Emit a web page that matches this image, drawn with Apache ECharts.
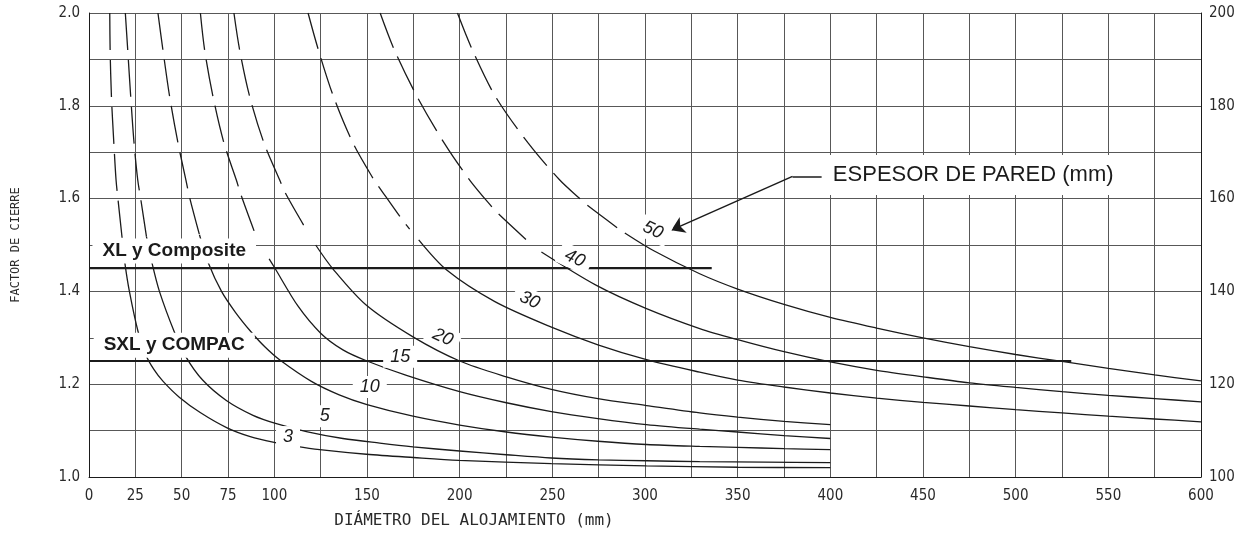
<!DOCTYPE html>
<html>
<head>
<meta charset="utf-8">
<script src="https://cdn.jsdelivr.net/npm/echarts@6/dist/echarts.min.js"></script>
<style>
  html, body { margin: 0; padding: 0; background: #ffffff; }
  #chart { width: 1243px; height: 541px; }
</style>
</head>
<body>
<div id="chart"></div>
<script>
// Closure factor vs. housing diameter (mm), one curve per wall thickness.
// Points are [diameter, factor].
const wallThickness = [3, 5, 10, 15, 20, 30, 40, 50];

const wall3 = [[11.2, 2.0], [11.4, 1.92], [12.1, 1.82], [13.4, 1.72], [14.6, 1.64], [15.6, 1.60], [18.0, 1.51], [19.4, 1.46], [21.8, 1.40], [26.5, 1.313], [30.8, 1.262], [35.0, 1.232], [40.0, 1.206], [48.7, 1.172], [60.0, 1.139], [74.5, 1.106], [87.0, 1.087], [99.3, 1.075], [112.0, 1.066], [124.5, 1.059], [149.7, 1.049], [175.0, 1.042], [199.6, 1.036], [249.5, 1.029], [300.8, 1.024], [350.0, 1.021], [400.0, 1.020]];
const wall5 = [[19.6, 2.0], [20.9, 1.92], [22.5, 1.82], [24.3, 1.72], [26.3, 1.64], [28.0, 1.597], [31.0, 1.518], [34.0, 1.461], [38.0, 1.40], [46.0, 1.313], [52.3, 1.259], [61.3, 1.209], [74.1, 1.165], [88.5, 1.133], [101.1, 1.115], [117.3, 1.098], [137.0, 1.083], [156.9, 1.073], [174.8, 1.065], [200.0, 1.056], [225.2, 1.048], [249.5, 1.041], [275.0, 1.037], [300.8, 1.035], [329.5, 1.033], [365.0, 1.032], [400.0, 1.031]];
const wall10 = [[37.2, 2.0], [39.9, 1.92], [43.5, 1.82], [48.0, 1.72], [52.3, 1.64], [54.2, 1.604], [59.6, 1.522], [64.5, 1.46], [71.5, 1.40], [79.0, 1.355], [87.4, 1.313], [95.0, 1.280], [103.0, 1.252], [120.0, 1.206], [135.0, 1.177], [150.0, 1.156], [174.8, 1.131], [200.0, 1.112], [225.2, 1.097], [249.5, 1.086], [274.6, 1.077], [300.8, 1.070], [329.5, 1.066], [350.0, 1.064], [375.0, 1.061], [400.0, 1.059]];
const wall15 = [[60.1, 2.0], [62.4, 1.92], [66.9, 1.82], [72.8, 1.72], [79.5, 1.64], [82.0, 1.608], [89.2, 1.529], [97.2, 1.47], [100.0, 1.452], [112.8, 1.368], [125.0, 1.310], [137.0, 1.274], [150.0, 1.250], [171.3, 1.219], [200.0, 1.184], [225.2, 1.160], [249.5, 1.141], [274.6, 1.126], [300.8, 1.113], [329.5, 1.103], [350.0, 1.097], [375.0, 1.089], [400.0, 1.083]];
const wall20 = [[78.2, 2.0], [81.3, 1.92], [86.7, 1.82], [94.4, 1.72], [102.9, 1.64], [106.1, 1.611], [115.8, 1.543], [122.3, 1.50], [131.7, 1.448], [149.7, 1.370], [174.8, 1.302], [200.0, 1.250], [225.2, 1.216], [249.5, 1.189], [274.6, 1.169], [300.8, 1.154], [329.5, 1.138], [350.0, 1.129], [375.0, 1.120], [400.0, 1.113]];
const wall30 = [[118.2, 2.0], [123.8, 1.92], [131.9, 1.82], [142.4, 1.72], [153.8, 1.64], [156.3, 1.626], [167.8, 1.561], [173.0, 1.534], [177.9, 1.511], [193.0, 1.446], [219.0, 1.378], [249.5, 1.323], [274.6, 1.285], [300.8, 1.253], [329.5, 1.226], [350.0, 1.209], [375.0, 1.194], [400.0, 1.181], [425.0, 1.170], [450.0, 1.161], [475.0, 1.153], [500.0, 1.145], [525.0, 1.138], [550.0, 1.131], [575.0, 1.125], [600.0, 1.119]];
const wall40 = [[157.1, 2.0], [164.8, 1.92], [177.0, 1.82], [191.6, 1.72], [205.4, 1.64], [217.4, 1.582], [220.7, 1.568], [236.0, 1.511], [244.1, 1.485], [273.8, 1.413], [300.8, 1.363], [329.5, 1.320], [350.0, 1.296], [375.0, 1.270], [400.0, 1.248], [425.0, 1.230], [450.0, 1.216], [475.0, 1.203], [500.0, 1.193], [525.0, 1.184], [550.0, 1.176], [575.0, 1.169], [600.0, 1.162]];
const wall50 = [[198.8, 2.0], [206.9, 1.92], [219.3, 1.82], [236.9, 1.72], [254.0, 1.64], [264.8, 1.600], [268.4, 1.587], [285.4, 1.536], [289.1, 1.526], [305.0, 1.487], [329.5, 1.438], [350.0, 1.405], [375.0, 1.372], [400.0, 1.344], [425.0, 1.321], [450.0, 1.300], [475.0, 1.281], [500.0, 1.264], [525.0, 1.249], [550.0, 1.234], [575.0, 1.220], [600.0, 1.207]];

// Above these factors a curve is drawn dashed; below the second value it is solid.
const dashedDownTo = [1.51, 1.518, 1.522, 1.529, 1.543, 1.534, 1.511, 1.536];
const solidFrom = [1.51, 1.518, 1.522, 1.47, 1.50, 1.511, 1.485, 1.526];

// Product limits
const xlLimit = [[0, 1.45], [336, 1.45]];
const sxlLimit = [[0, 1.25], [530, 1.25]];

// Tick labels
const diameterLabels = [0, 25, 50, 75, 100, 150, 200, 250, 300, 350, 400, 450, 500, 550, 600];
const factorLabels = [1.0, 1.2, 1.4, 1.6, 1.8, 2.0];
const percentLabels = [100, 120, 140, 160, 180, 200];

const curves = [wall3, wall5, wall10, wall15, wall20, wall30, wall40, wall50];

const INK = '#1b1b1b';
const GRID = '#585858';
const NARROW = '"Liberation Sans Narrow", "Arial Narrow", "DejaVu Sans Condensed", sans-serif';
const SANS = '"Liberation Sans", Arial, Helvetica, sans-serif';
const MONO = '"DejaVu Sans Mono", "Liberation Mono", monospace';

// Where each thickness tag sits, and its tilt
const tagLayout = {
  3: { at: [107.4, 1.086], rotate: 0 },
  5: { at: [127.2, 1.131], rotate: 0 },
  10: { at: [151.5, 1.194], rotate: 0 },
  15: { at: [167.9, 1.259], rotate: 0 },
  20: { at: [190.9, 1.301], rotate: -25 },
  30: { at: [237.8, 1.381], rotate: -25 },
  40: { at: [262.1, 1.471], rotate: -25 },
  50: { at: [304.3, 1.532], rotate: -25 }
};

const series = [];
curves.forEach((pts, i) => {
  const common = {
    type: 'line',
    showSymbol: false,
    symbol: 'none',
    smooth: 0.3,
    silent: true,
    z: 2,
    color: INK
  };
  series.push(Object.assign({}, common, {
    name: wallThickness[i] + ' mm (dashed)',
    data: pts.filter(p => p[1] >= dashedDownTo[i]),
    lineStyle: { color: INK, width: 1.3, type: [37, 10] }
  }));
  series.push(Object.assign({}, common, {
    name: wallThickness[i] + ' mm',
    data: pts.filter(p => p[1] <= solidFrom[i]),
    lineStyle: { color: INK, width: 1.3, type: 'solid' }
  }));
});

const tagData = wallThickness.map(t => ({
  name: String(t),
  coord: tagLayout[t].at,
  label: { rotate: tagLayout[t].rotate }
}));

const boxLabel = {
  show: true,
  position: 'inside',
  formatter: '{b}',
  backgroundColor: '#ffffff',
  color: INK
};

series.push({
  type: 'line',
  name: 'XL y Composite',
  data: xlLimit,
  showSymbol: false,
  symbol: 'none',
  silent: true,
  z: 3,
  lineStyle: { color: INK, width: 2.2 },
  markPoint: {
    z: 10,
    symbol: 'rect',
    symbolSize: 1,
    silent: true,
    itemStyle: { color: 'rgba(0,0,0,0)' },
    label: Object.assign({}, boxLabel, {
      fontFamily: SANS, fontStyle: 'italic', fontSize: 18, padding: [2, 7]
    }),
    data: tagData.concat([
      {
        name: 'XL y Composite', coord: [46.0, 1.487],
        label: { fontStyle: 'normal', fontWeight: 'bold', fontSize: 19, padding: [3, 10] }
      },
      {
        name: 'SXL y COMPAC', coord: [46.0, 1.284],
        label: { fontStyle: 'normal', fontWeight: 'bold', fontSize: 19, padding: [3, 10] }
      },
      {
        name: 'ESPESOR DE PARED (mm)', coord: [477.1, 1.651],
        label: { fontStyle: 'normal', fontWeight: 'normal', fontSize: 22, padding: [9, 10] }
      }
    ])
  },
  markLine: {
    z: 6,
    silent: true,
    symbol: ['none', 'none'],
    label: { show: false },
    lineStyle: { color: INK, width: 1.5, type: 'solid' },
    data: [
      [{ coord: [395.3, 1.648] }, { coord: [379.6, 1.648] }],
      [{ coord: [379.6, 1.648] }, { coord: [314.2, 1.532], symbol: 'arrow', symbolSize: 13 }]
    ]
  }
});

series.push({
  type: 'line',
  name: 'SXL y COMPAC',
  data: sxlLimit,
  showSymbol: false,
  symbol: 'none',
  silent: true,
  z: 3,
  lineStyle: { color: INK, width: 2.2 }
});

const chart = echarts.init(document.getElementById('chart'), null, { renderer: 'canvas' });

chart.setOption({
  animation: false,
  backgroundColor: '#ffffff',
  grid: { left: 89, right: 42, top: 13, bottom: 64, outerBoundsMode: 'none', containLabel: false },
  xAxis: {
    type: 'value',
    min: 0,
    max: 600,
    interval: 25,
    axisLine: { show: true, onZero: false, lineStyle: { color: INK, width: 1 } },
    axisTick: { show: false },
    axisLabel: {
      margin: 12,
      fontFamily: NARROW,
      fontSize: 15,
      color: '#2a2a2a',
      formatter: v => (diameterLabels.indexOf(Math.round(v)) >= 0 ? String(Math.round(v)) : '')
    },
    splitLine: { show: true, lineStyle: { color: GRID, width: 1 } }
  },
  yAxis: [
    {
      type: 'value',
      min: 1.0,
      max: 2.0,
      interval: 0.1,
      axisLine: { show: true, lineStyle: { color: INK, width: 1 } },
      axisTick: { show: false },
      axisLabel: {
        margin: 9,
        fontFamily: NARROW,
        fontSize: 15,
        color: '#2a2a2a',
        formatter: v => {
          const k = Math.round(v * 10);
          return factorLabels.some(f => Math.round(f * 10) === k) ? (k / 10).toFixed(1) : '';
        }
      },
      splitLine: { show: true, lineStyle: { color: GRID, width: 1 } }
    },
    {
      type: 'value',
      position: 'right',
      min: 100,
      max: 200,
      interval: 10,
      axisLine: { show: true, lineStyle: { color: INK, width: 1 } },
      axisTick: { show: false },
      axisLabel: {
        margin: 8,
        fontFamily: NARROW,
        fontSize: 15,
        color: '#2a2a2a',
        formatter: v => (percentLabels.indexOf(Math.round(v)) >= 0 ? String(Math.round(v)) : '')
      },
      splitLine: { show: false }
    }
  ],
  graphic: [
    {
      type: 'text',
      x: 474,
      y: 521,
      silent: true,
      style: {
        text: 'DIÁMETRO DEL ALOJAMIENTO (mm)',
        font: '16px ' + MONO,
        fill: '#2a2a2a',
        textAlign: 'center',
        textVerticalAlign: 'middle'
      }
    },
    {
      type: 'text',
      x: 16,
      y: 245,
      rotation: Math.PI / 2,
      silent: true,
      style: {
        text: 'FACTOR DE CIERRE',
        font: '12px ' + MONO,
        fill: '#2a2a2a',
        textAlign: 'center',
        textVerticalAlign: 'middle'
      }
    }
  ],
  series: series
});
</script>
</body>
</html>
